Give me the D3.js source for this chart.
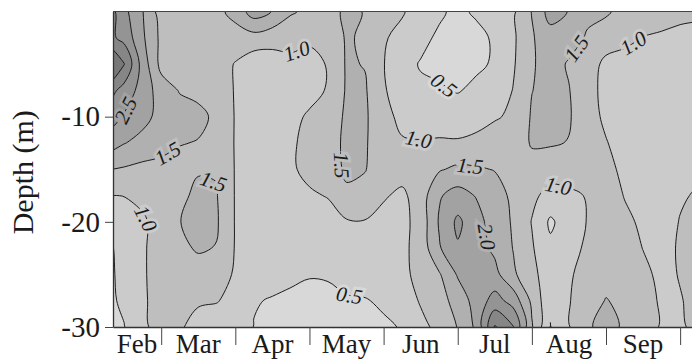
<!DOCTYPE html>
<html>
<head>
<meta charset="utf-8">
<script src="https://cdn.jsdelivr.net/npm/d3@7"></script>
<style>
  html, body { margin: 0; padding: 0; background: #fff; }
  svg { display: block; }
  text { font-family: "Liberation Serif", "Times New Roman", serif; fill: #1a1a1a; }
</style>
</head>
<body>
<div id="chart"></div>
<script>
// grid sample positions: month index (Jan = 0, so 2.0 = 1 Mar) and depth (m)
const gridMonths = [1.25, 1.5, 1.75, 2.0, 2.25, 2.5, 2.75, 3.0, 3.25, 3.5, 3.75, 4.0, 4.25, 4.5, 4.75, 5.0,
  5.25, 5.5, 5.75, 6.0, 6.25, 6.5, 6.75, 7.0, 7.25, 7.5, 7.75, 8.0, 8.25, 8.5, 8.75, 9.0, 9.25];
const gridDepths = [0, -2.5, -5, -7.5, -10, -12.5, -15, -17.5, -20, -22.5, -25, -27.5, -30];

// values, one row per depth
const depthRows = [
  [3.4, 2.64, 2.02, 1.25, 1.2, 1.2, 1.38, 1.65, 2.25, 1.98, 1.55, 1.4, 1.3, 1.6, 1.48, 1.2, 1.05, 0.75, 0.55, 0.42, 0.55, 0.65, 0.92, 1.52, 2.2, 1.98, 1.6, 1.58, 1.3, 1.2, 1.15, 1.08, 1.05],
  [3.2, 2.85, 2.08, 1.38, 1.25, 1.25, 1.3, 1.3, 1.3, 1.2, 1.2, 1.05, 1.1, 1.56, 1.42, 1.05, 0.85, 0.58, 0.45, 0.35, 0.4, 0.55, 0.92, 1.45, 1.8, 1.7, 1.45, 1.2, 1.1, 0.99, 0.95, 0.92, 0.9],
  [4.3, 3.52, 2.28, 1.35, 1.3, 1.3, 1.25, 0.97, 0.7, 0.75, 0.85, 0.9, 1.02, 1.55, 1.48, 1.02, 0.6, 0.48, 0.4, 0.3, 0.42, 0.55, 0.95, 1.45, 1.7, 1.45, 1.2, 0.9, 0.85, 0.8, 0.8, 0.8, 0.8],
  [3.3, 2.8, 2.3, 1.75, 1.47, 1.4, 1.25, 0.97, 0.7, 0.7, 0.8, 0.88, 1.03, 1.55, 1.55, 1.05, 0.75, 0.55, 0.55, 0.47, 0.6, 0.7, 1.02, 1.49, 1.65, 1.52, 1.15, 0.88, 0.8, 0.75, 0.75, 0.75, 0.75],
  [2.84, 2.45, 2.15, 1.85, 1.7, 1.6, 1.42, 0.97, 0.75, 0.7, 0.9, 1.05, 1.15, 1.6, 1.58, 1.1, 0.92, 0.8, 0.8, 0.75, 0.85, 0.97, 1.05, 1.55, 1.65, 1.55, 1.15, 0.93, 0.8, 0.75, 0.72, 0.75, 0.78],
  [2.25, 2.02, 1.85, 1.65, 1.52, 1.48, 1.35, 0.97, 0.75, 0.72, 0.95, 1.1, 1.25, 1.62, 1.55, 1.2, 1.03, 1.03, 1.05, 1.05, 1.1, 1.15, 1.2, 1.55, 1.55, 1.48, 1.2, 1.02, 0.85, 0.78, 0.72, 0.78, 0.8],
  [1.53, 1.45, 1.36, 1.37, 1.36, 1.47, 1.48, 0.97, 0.75, 0.72, 0.95, 1.1, 1.25, 1.58, 1.52, 1.25, 1.2, 1.3, 1.45, 1.6, 1.55, 1.48, 1.4, 1.3, 1.2, 1.25, 1.3, 1.1, 0.92, 0.8, 0.75, 0.85, 0.9],
  [0.98, 1.01, 1.15, 1.3, 1.42, 1.58, 1.52, 0.97, 0.75, 0.72, 0.8, 0.95, 1.02, 1.42, 1.35, 1.05, 0.9, 1.25, 1.95, 2.2, 1.97, 1.7, 1.4, 1.1, 0.85, 0.9, 1.03, 1.25, 0.98, 0.85, 0.78, 0.95, 1.05],
  [0.45, 0.8, 0.91, 1.25, 1.49, 1.65, 1.55, 0.97, 0.75, 0.72, 0.7, 0.8, 0.85, 0.95, 0.97, 0.85, 0.85, 1.2, 2.05, 2.6, 2.2, 1.75, 1.45, 0.98, 0.42, 0.75, 1.02, 1.3, 1.1, 0.92, 0.8, 1.02, 1.15],
  [0.38, 0.66, 0.93, 1.25, 1.4, 1.55, 1.48, 0.97, 0.72, 0.7, 0.65, 0.7, 0.7, 0.75, 0.8, 0.75, 0.88, 1.2, 1.95, 2.45, 2.2, 1.9, 1.48, 1.05, 0.6, 0.8, 1.1, 1.3, 1.2, 0.99, 0.85, 1.05, 1.15],
  [0.36, 0.64, 0.93, 1.25, 1.3, 1.3, 1.2, 0.95, 0.65, 0.6, 0.55, 0.52, 0.53, 0.6, 0.65, 0.65, 0.88, 1.15, 1.45, 2.05, 2.15, 2.15, 1.58, 1.15, 0.7, 0.95, 1.15, 1.35, 1.25, 1.1, 0.9, 1.02, 1.12],
  [0.35, 0.6, 0.92, 1.22, 1.1, 1.05, 1.02, 0.88, 0.52, 0.48, 0.45, 0.4, 0.42, 0.47, 0.48, 0.55, 0.7, 1.05, 1.3, 1.7, 2.2, 2.7, 2.3, 1.4, 0.6, 0.97, 1.3, 1.52, 1.4, 1.15, 0.95, 0.98, 1.1],
  [0.3, 0.48, 0.9, 1.2, 1.05, 0.85, 0.8, 0.75, 0.49, 0.4, 0.35, 0.35, 0.35, 0.4, 0.4, 0.45, 0.52, 0.85, 1.15, 1.52, 2.1, 3.55, 3.02, 1.55, 0.48, 0.97, 1.48, 1.55, 1.48, 1.15, 0.97, 0.95, 1.1]
];

const levels = [0.5, 1.0, 1.5, 2.0, 2.5, 3.0, 3.5];
const bandColors = ['#d8d8d8', '#cbcbcb', '#bebebe', '#b0b0b0', '#a2a2a2', '#949494', '#868686', '#787878'];

const monthNames = ['Feb', 'Mar', 'Apr', 'May', 'Jun', 'Jul', 'Aug', 'Sep'];
const monthStarts = [1, 2, 3, 4, 5, 6, 7, 8];
const monthBounds = [2, 3, 4, 5, 6, 7, 8, 9];
const yTicks = [-10, -20, -30];
const yTickLabels = ['-10', '-20', '-30'];

// where the contour labels sit (month, depth) and which level they belong to
const labelSpots = [
  { level: 2.5, month: 1.58, depth: -9.6 },
  { level: 1.5, month: 2.08, depth: -13.4 },
  { level: 1.0, month: 1.70, depth: -20.0 },
  { level: 1.5, month: 2.70, depth: -16.3 },
  { level: 1.0, month: 3.81, depth: -3.4 },
  { level: 1.5, month: 4.48, depth: -14.6 },
  { level: 0.5, month: 5.76, depth: -7.5 },
  { level: 1.0, month: 5.49, depth: -11.5 },
  { level: 0.5, month: 4.55, depth: -26.4 },
  { level: 1.5, month: 6.17, depth: -14.4 },
  { level: 2.0, month: 6.40, depth: -21.4 },
  { level: 1.0, month: 7.35, depth: -16.8 },
  { level: 1.5, month: 7.60, depth: -3.5 },
  { level: 1.0, month: 8.37, depth: -3.0 }
];

const width = 692, height = 360;
const xExtent = [1.35, 9.16];
const yExtent = [0, -30];

const x = d3.scaleLinear().domain(xExtent).range([113, 692]);
const y = d3.scaleLinear().domain(yExtent).range([11.5, 327]);

const svg = d3.select('#chart').append('svg')
  .attr('width', width).attr('height', height);

svg.append('defs').append('clipPath').attr('id', 'plotClip')
  .append('rect')
  .attr('x', x.range()[0]).attr('y', y.range()[0])
  .attr('width', x.range()[1] - x.range()[0])
  .attr('height', y.range()[1] - y.range()[0]);

// contours on the grid, then mapped to the page
const nx = gridMonths.length, ny = gridDepths.length;
const contours = d3.contours().size([nx, ny]).thresholds(levels)(depthRows.flat());

const mStep = gridMonths[1] - gridMonths[0];
const dStep = gridDepths[1] - gridDepths[0];
const toPx = ([cx, cy]) => [x(gridMonths[0] + (cx - 0.5) * mStep), y(gridDepths[0] + (cy - 0.5) * dStep)];

const ringLine = d3.line().curve(d3.curveCatmullRomClosed.alpha(0.5));
const pathOf = c => c.coordinates
  .map(poly => poly.map(ring => ringLine(ring.slice(0, -1).map(toPx))).join(''))
  .join('');

const plot = svg.append('g').attr('clip-path', 'url(#plotClip)');

plot.append('rect')
  .attr('x', x.range()[0]).attr('y', y.range()[0])
  .attr('width', x.range()[1] - x.range()[0])
  .attr('height', y.range()[1] - y.range()[0])
  .attr('fill', bandColors[0]);

plot.append('g').selectAll('path')
  .data(contours)
  .join('path')
  .attr('d', pathOf)
  .attr('fill', (d, i) => bandColors[i + 1])
  .attr('fill-rule', 'evenodd');

plot.append('g').selectAll('path')
  .data(contours)
  .join('path')
  .attr('d', pathOf)
  .attr('fill', 'none')
  .attr('stroke', '#1c1c1c')
  .attr('stroke-width', 1);

// labels: nearest spot on the contour line, turned along it
function placeLabel(spot) {
  const c = contours[levels.indexOf(spot.level)];
  const p = [x(spot.month), y(spot.depth)];
  let best = null;
  c.coordinates.forEach(poly => poly.forEach(ring => {
    const pts = ring.map(toPx);
    for (let i = 0; i < pts.length - 1; i++) {
      const a = pts[i], b = pts[i + 1];
      const dx = b[0] - a[0], dy = b[1] - a[1];
      const L = dx * dx + dy * dy;
      if (!L) continue;
      const t = Math.max(0, Math.min(1, ((p[0] - a[0]) * dx + (p[1] - a[1]) * dy) / L));
      const q = [a[0] + t * dx, a[1] + t * dy];
      const dist = Math.hypot(q[0] - p[0], q[1] - p[1]);
      if (!best || dist < best.dist) best = { q, dist, ang: Math.atan2(dy, dx) * 180 / Math.PI };
    }
  }));
  let ang = best.ang;
  if (ang > 90) ang -= 180;
  if (ang <= -90) ang += 180;
  return { q: best.q, ang };
}

plot.append('g').selectAll('text')
  .data(labelSpots)
  .join('text')
  .each(function (d) {
    const pl = placeLabel(d);
    d3.select(this).attr('transform', `translate(${pl.q[0]},${pl.q[1]}) rotate(${pl.ang})`);
  })
  .attr('dy', '0.35em')
  .attr('text-anchor', 'middle')
  .style('font-size', '21px')
  .style('font-style', 'italic')
  .attr('stroke', d => bandColors[levels.indexOf(d.level)])
  .attr('stroke-width', 6)
  .attr('paint-order', 'stroke')
  .text(d => d.level.toFixed(1));

// frame and axes
svg.append('line')
  .attr('x1', x.range()[0]).attr('x2', x.range()[1])
  .attr('y1', y.range()[0]).attr('y2', y.range()[0])
  .attr('stroke', '#444').attr('stroke-width', 1.2);

const xAxis = svg.append('g')
  .attr('transform', `translate(0,${y.range()[1]})`)
  .call(d3.axisBottom(x).tickValues(monthBounds).tickSize(18).tickSizeOuter(0).tickFormat(''));
xAxis.select('.domain').attr('stroke', '#333').attr('stroke-width', 1.3);
xAxis.selectAll('.tick line').attr('stroke', '#444').attr('stroke-width', 1);

svg.append('g').selectAll('text')
  .data(monthNames)
  .join('text')
  .attr('x', (d, i) => {
    const a = Math.max(x(monthStarts[i]), x.range()[0]);
    const b = Math.min(x(monthStarts[i] + 1), x.range()[1]);
    return (a + b) / 2;
  })
  .attr('y', 353)
  .attr('text-anchor', 'middle')
  .style('font-size', '27px')
  .text(d => d);

const yAxis = svg.append('g')
  .attr('transform', `translate(${x.range()[0]},0)`)
  .call(d3.axisLeft(y).tickValues(yTicks).tickSize(8).tickSizeOuter(0)
    .tickFormat((d, i) => yTickLabels[i]));
yAxis.select('.domain').attr('stroke', '#333').attr('stroke-width', 1.3);
yAxis.selectAll('.tick line').attr('stroke', '#444');
yAxis.selectAll('.tick text')
  .attr('x', -13)
  .attr('fill', '#1a1a1a')
  .style('font-family', '"Liberation Serif", "Times New Roman", serif')
  .style('font-size', '29px');

svg.append('text')
  .attr('transform', `translate(33,${(y.range()[0] + y.range()[1]) / 2 + 3}) rotate(-90)`)
  .attr('text-anchor', 'middle')
  .style('font-size', '30px')
  .text('Depth (m)');
</script>
</body>
</html>
